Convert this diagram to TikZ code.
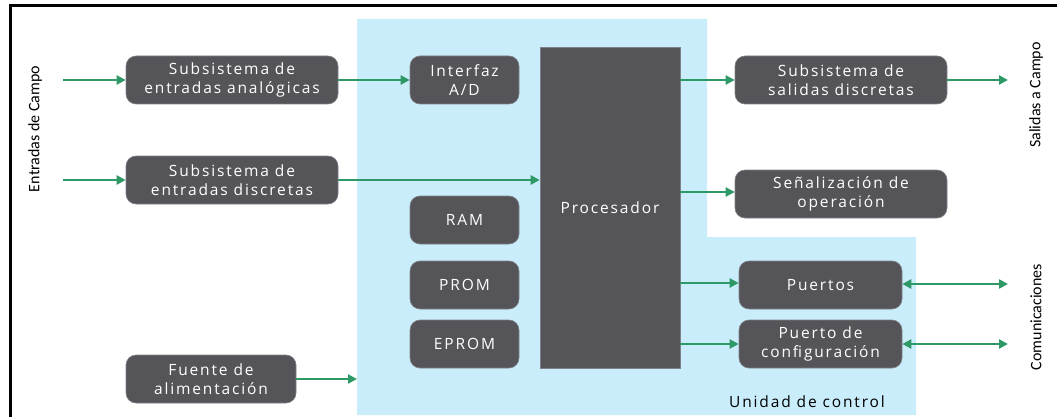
\documentclass[tikz,border=0pt]{standalone}
\usepackage{fontspec}
\setmainfont{Open Sans}
\newfontfamily\boxfont[LetterSpace=12]{Open Sans}
\newfontfamily\sidefont{Carlito}
\usetikzlibrary{arrows.meta,calc}
\definecolor{bluebg}{RGB}{202,237,251}
\definecolor{boxfill}{RGB}{85,85,89}
\definecolor{boxline}{RGB}{125,130,135}
\definecolor{arrgreen}{RGB}{46,152,102}
\tikzset{
  blk/.style={draw=boxline, line width=0.6pt, fill=boxfill, rounded corners=10pt,
    text=white, font=\boxfont\fontsize{15.5}{19.5}\selectfont, align=center,
    minimum height=48pt, inner sep=0pt},
  arr/.style={draw=arrgreen, line width=2.4pt, -{Triangle[length=9pt,width=9pt]}},
  darr/.style={draw=arrgreen, line width=2.4pt, {Triangle[length=9pt,width=9pt]}-{Triangle[length=9pt,width=9pt]}},
  side/.style={rotate=90, font=\sidefont\fontsize{16}{18}\selectfont, inner sep=0pt}
}
\begin{document}
\begin{tikzpicture}[x=1pt,y=-1pt]
\useasboundingbox (0,0) rectangle (1057,417);
% frame (top and left)
\draw[line width=3pt] (10.5,417) -- (10.5,5.5) -- (1057,5.5);
% control unit background
\fill[bluebg] (357,19) -- (707,19) -- (707,237) -- (916,237) -- (916,415) -- (357,415) -- cycle;
\coordinate (ucedge) at (357,379);
\node[anchor=center, font=\boxfont\fontsize{15.5}{16}\selectfont] (uc) at (807,402) {Unidad de control};
% boxes
\node[blk, minimum width=212pt] (ana) at (232,80) {Subsistema de\\entradas analógicas};
\node[blk, minimum width=212pt] (dis) at (232,180) {Subsistema de\\entradas discretas};
\node[blk, minimum width=170pt] (fue) at (211,379) {Fuente de\\alimentación};
\node[blk, minimum width=109pt] (ad) at (464.5,80) {Interfaz\\A/D};
\node[blk, minimum width=109pt] (ram) at (464.5,220) {RAM};
\node[blk, minimum width=109pt] (prom) at (464.5,285) {PROM};
\node[blk, minimum width=109pt] (eprom) at (464.5,344) {EPROM};
\node[blk, rounded corners=0pt, minimum width=140pt, minimum height=321pt] (proc) at (610,207.5) {Procesador};
\node[blk, minimum width=212pt] (sal) at (841,80) {Subsistema de\\salidas discretas};
\node[blk, minimum width=212pt] (sen) at (841,194) {Señalización de\\operación};
\node[blk, minimum width=163pt] (pue) at (820.5,285) {Puertos};
\node[blk, minimum width=163pt] (cfg) at (820.5,344) {Puerto de\\configuración};
% side labels
\node[side] (lin) at (35,129) {Entradas de Campo};
\node[side] (lout) at (1036,95) {Salidas a Campo};
\node[side] (lcom) at (1036,317) {Comunicaciones};
% endpoints
\coordinate (in1) at (63,80);
\coordinate (in2) at (63,180);
\coordinate (out1) at (1008,80);
\coordinate (com1) at (1008,284);
\coordinate (com2) at (1008,344);
% connectors
\draw[arr] (in1) -- (ana.west);
\draw[arr] (in2) -- (dis.west);
\draw[arr] (ana.east) -- (ad.west);
\draw[arr] (dis.east) -- (dis.east -| proc.west);
\draw[arr] (fue.east) -- (ucedge);
\draw[arr] (proc.east |- sal.west) -- (sal.west);
\draw[arr] ($(proc.east |- sen.west)+(0,-2)$) -- ($(sen.west)+(0,-2)$);
\draw[arr] ($(proc.east |- pue.west)+(0,-2)$) -- ($(pue.west)+(0,-2)$);
\draw[arr] (proc.east |- cfg.west) -- (cfg.west);
\draw[arr] (sal.east) -- (out1);
\draw[darr] ($(pue.east)+(0,-1)$) -- (com1);
\draw[darr] (cfg.east) -- (com2);
\end{tikzpicture}
\end{document}
